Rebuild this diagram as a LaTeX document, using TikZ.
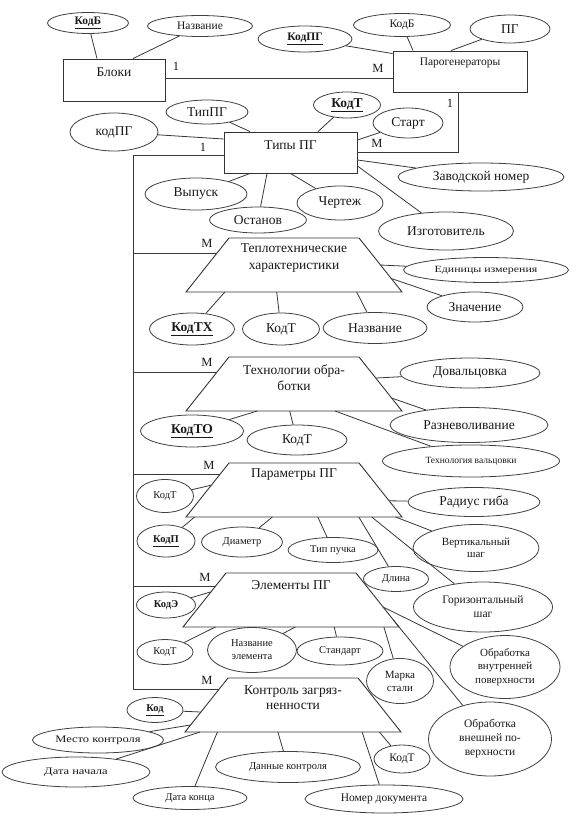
\documentclass[tikz,border=0pt]{standalone}
\usepackage{fontspec}
\setmainfont{Liberation Serif}
\newfontfamily\wideserif[FakeStretch=1.25]{Liberation Serif}
\usetikzlibrary{shapes.geometric,calc}
\begin{document}
\begin{tikzpicture}[x=1pt,y=-1pt,
 ln/.style={draw=black!78, line width=0.8pt},
 ent/.style={draw=black!80, line width=0.9pt, rectangle, inner sep=0pt},
 relline/.style={draw=black!80, line width=0.9pt, line join=miter},
 attr/.style={draw=black!75, line width=0.8pt, ellipse, inner sep=0pt, align=center, text=black!90},
 sz/.style 2 args={minimum width=#1pt, minimum height=#2pt},
 big/.style={font=\fontsize{13.5}{15}\selectfont, text=black!90},
 med/.style={font=\fontsize{11.5}{13}\selectfont, text=black!90},
 sml/.style={font=\fontsize{10.5}{12.5}\selectfont, text=black!90},
 wide/.style={font=\wideserif\fontsize{10}{12}\selectfont, text=black!90},
 tiny/.style={font=\fontsize{9.5}{11}\selectfont, text=black!90},
 card/.style={font=\fontsize{12.5}{14}\selectfont, inner sep=0pt, text=black!90},
 rtext/.style={align=center, inner sep=0pt, text=black!90}
]
\useasboundingbox[fill=white] (0,0) rectangle (582,826);

% ---------- entities ----------
\node[ent, sz={102}{42}, label={[big,yshift=8pt]center:Блоки}] (bl) at (114,80) {};
\node[ent, sz={134}{41}, label={[med,yshift=8.5pt]center:Парогенераторы}] (pg) at (460,71.5) {};
\node[ent, sz={133}{41}, label={[big,yshift=7.5pt]center:Типы ПГ}] (tp) at (290.5,152.5) {};

% ---------- relationship trapezoids ----------
\foreach \n/\cx/\cy in {T1/294/265, T2/294/384, T3/294/490, T4/291/600, T5/293/705}{
  \coordinate (\n-c) at (\cx,\cy);
  \coordinate (\n-tl) at (\cx-65,\cy-27);
  \coordinate (\n-tr) at (\cx+65,\cy-27);
  \coordinate (\n-br) at (\cx+108,\cy+27);
  \coordinate (\n-bl) at (\cx-108,\cy+27);
  \draw[relline] (\n-tl) -- (\n-tr) -- (\n-br) -- (\n-bl) -- cycle;
}
\node[rtext, font=\fontsize{13.5}{17}\selectfont] (T1t) at (294,258.5) {Теплотехнические\\характеристики};
\node[rtext, font=\fontsize{13.5}{16}\selectfont] (T2t) at (294,378) {Технологии обра-\\ботки};
\node[rtext, font=\fontsize{13.5}{15}\selectfont] (T3t) at (294,475) {Параметры ПГ};
\node[rtext, font=\fontsize{13.5}{15}\selectfont] (T4t) at (291,585) {Элементы ПГ};
\node[rtext, font=\fontsize{13.5}{15.5}\selectfont] (T5t) at (293,697.5) {Контроль загряз-\\ненности};

% ---------- cardinalities ----------
\node[card] (c1) at (176,66) {1};
\node[card] (c2) at (378,68) {M};
\node[card] (c3) at (450,103) {1};
\node[card] (c4) at (377,143) {M};
\node[card] (c5) at (203,147) {1};
\node[card] (c6) at (207,243) {M};
\node[card] (c7) at (207,362) {M};
\node[card] (c8) at (209,465) {M};
\node[card] (c9) at (205,577) {M};
\node[card] (c10) at (207,680) {M};

% ---------- relationships ----------
\draw[ln] ([yshift=2pt]bl.east) -- ([yshift=2pt]bl.east -| pg.west);
\draw[ln] ([xshift=-2pt]pg.south) |- (tp.east);

\coordinate (T1l) at ($(T1-tl)!0.28!(T1-bl)$);
\coordinate (T2l) at ($(T2-tl)!0.28!(T2-bl)$);
\coordinate (T3l) at ($(T3-tl)!0.22!(T3-bl)$);
\coordinate (T4l) at ($(T4-tl)!0.24!(T4-bl)$);
\coordinate (T5l) at ($(T5-tl)!0.22!(T5-bl)$);
\coordinate (bus) at (133,690);
\draw[ln] ([yshift=-2.5pt]tp.west) -| (bus |- T5l) -- (T5l);
\draw[ln] (T1l -| bus) -- (T1l);
\draw[ln] (T2l -| bus) -- (T2l);
\draw[ln] (T3l -| bus) -- (T3l);
\draw[ln] (T4l -| bus) -- (T4l);

% ---------- attributes: Блоки ----------
\node[attr, sz={81}{21}, med] (kodB1) at (88,23) {\underline{\textbf{КодБ}}};
\node[attr, sz={105}{21}, med] (nazv1) at (200,26) {Название};
\draw[ln] (kodB1) -- ([xshift=-17pt]bl.north);
\draw[ln] (nazv1) -- ([xshift=19pt]bl.north);

% ---------- attributes: Парогенераторы ----------
\node[attr, sz={94}{26}, med] (kodPG) at (305,39) {\underline{\textbf{КодПГ}}};
\node[attr, sz={97}{23}, med] (kodB2) at (402,25) {КодБ};
\node[attr, sz={80}{28}, big] (pgA) at (510,29) {ПГ};
\draw[ln] (kodPG) -- ([yshift=-3pt]pg.north west);
\draw[ln] (kodB2) -- ([xshift=-47pt]pg.north);
\draw[ln] (pgA) -- ([xshift=-9pt]pg.north);

% ---------- attributes: Типы ПГ ----------
\node[attr, sz={88}{38}, big] (kodpg2) at (114,132) {кодПГ};
\node[attr, sz={82}{24}, big] (tipPG) at (207,112) {ТипПГ};
\node[attr, sz={67}{26}, big] (kodT1) at (347,105) {\underline{\textbf{КодТ}}};
\node[attr, sz={70}{30}, big] (start) at (408,123) {Старт};
\node[attr, sz={102}{32}, big] (vyp) at (196,194) {Выпуск};
\node[attr, sz={97}{26}, big] (ost) at (258,220) {Останов};
\node[attr, sz={86}{34}, big] (cher) at (340,203) {Чертеж};
\node[attr, sz={166}{28}, big] (zav) at (481,177) {Заводской номер};
\node[attr, sz={135}{38}, big] (izg) at (446,231) {Изготовитель};
\draw[ln] (kodpg2) -- ([yshift=13.5pt]tp.west);
\draw[ln] (tipPG) -- ([xshift=-40.5pt]tp.north);
\draw[ln] (kodT1) -- ([xshift=27.5pt]tp.north);
\draw[ln] (start) -- ([yshift=12.5pt]tp.east);
\draw[ln] (vyp) -- ([xshift=-40.5pt]tp.south);
\draw[ln] (ost) -- ([xshift=-23.5pt]tp.south);
\draw[ln] (cher) -- (tp.south);
\draw[ln] (zav) -- ([yshift=-7.5pt]tp.east);
\draw[ln] (izg) -- ([yshift=-13.5pt]tp.east);

% ---------- Теплотехнические характеристики ----------
\node[attr, sz={165}{25}, font=\wideserif\fontsize{9.5}{11}\selectfont] (edin) at (486,270) {Единицы измерения};
\node[attr, sz={96}{30}, big] (znach) at (475,307) {Значение};
\node[attr, sz={85}{32}, big] (kodTX) at (192,329) {\underline{\textbf{КодТХ}}};
\node[attr, sz={77}{32}, big] (kodTa) at (281,329) {КодТ};
\node[attr, sz={104}{31}, big] (nazv2) at (375,328) {Название};
\draw[ln] (edin) -- ($(T1-tr)!0.5!(T1-br)$);
\draw[ln] (znach) -- ($(T1-tr)!0.75!(T1-br)$);
\draw[ln] (kodTX) -- ($(T1-bl)!0.18!(T1-br)$);
\draw[ln] (kodTa) -- ($(T1-bl)!0.42!(T1-br)$);
\draw[ln] (nazv2) -- ($(T1-bl)!0.79!(T1-br)$);

% ---------- Технологии обработки ----------
\node[attr, sz={140}{30}, big] (doval) at (470,373) {Довальцовка};
\node[attr, sz={158}{35}, big] (razn) at (469,425) {Разневоливание};
\node[attr, sz={177}{32}, tiny] (tehv) at (471,461) {Технология вальцовки};
\node[attr, sz={103}{32}, big] (kodTO) at (192,431) {\underline{\textbf{КодТО}}};
\node[attr, sz={100}{30}, big] (kodTb) at (297,440) {КодТ};
\draw[ln] (doval) -- ($(T2-tr)!0.39!(T2-br)$);
\draw[ln] (razn) -- ($(T2-tr)!0.76!(T2-br)$);
\draw[ln] (tehv) -- ($(T2-bl)!0.69!(T2-br)$);
\draw[ln] (kodTO) -- ($(T2-bl)!0.33!(T2-br)$);
\draw[ln] (kodTb) -- ($(T2-bl)!0.48!(T2-br)$);

% ---------- Параметры ПГ ----------
\node[attr, sz={57}{33}, sml] (kodTc) at (165,496) {КодТ};
\node[attr, sz={132}{29}, big] (rad) at (474,502) {Радиус гиба};
\node[attr, sz={58}{32}, sml] (kodP) at (166,541) {\underline{\textbf{КодП}}};
\node[attr, sz={81}{30}, sml] (diam) at (242,542) {Диаметр};
\node[attr, sz={90}{25}, sml] (tipp) at (333,550) {Тип пучка};
\node[attr, sz={65}{25}, sml] (dlina) at (396,579) {Длина};
\node[attr, sz={126}{47}, font=\fontsize{11}{12.5}\selectfont] (vert) at (476,548) {Вертикальный\\шаг};
\node[attr, sz={139}{50}, font=\fontsize{11.5}{14}\selectfont] (goriz) at (483,607) {Горизонтальный\\шаг};
\draw[ln] (kodTc) -- ($(T3-tl)!0.41!(T3-bl)$);
\draw[ln] (rad) -- ($(T3-tr)!0.7!(T3-br)$);
\draw[ln] (kodP) -- ($(T3-bl)!0.04!(T3-br)$);
\draw[ln] (diam) -- ($(T3-bl)!0.4!(T3-br)$);
\draw[ln] (tipp) -- ($(T3-bl)!0.61!(T3-br)$);
\draw[ln] (dlina) -- ($(T3-bl)!0.8!(T3-br)$);
\draw[ln] (goriz) -- ($(T3-bl)!0.86!(T3-br)$);
\draw[ln] (vert) -- ($(T3-bl)!0.97!(T3-br)$);

% ---------- Элементы ПГ ----------
\node[attr, sz={59}{26}, sml] (kodE) at (166,605) {\textbf{КодЭ}};
\node[attr, sz={56}{25}, sml] (kodTd) at (165,652) {КодТ};
\node[attr, sz={89}{45}, font=\fontsize{10.5}{13}\selectfont] (nazel) at (252,650) {Название\\элемента};
\node[attr, sz={86}{28}, sml] (stand) at (340,651) {Стандарт};
\node[attr, sz={67}{45}, font=\fontsize{11}{13}\selectfont] (marka) at (400,681) {Марка\\стали};
\node[attr, sz={110}{63}, font=\fontsize{11}{13.3}\selectfont] (obrvn) at (505,667) {Обработка\\внутренней\\поверхности};
\node[attr, sz={123}{74}, font=\fontsize{11.5}{14}\selectfont] (obrvsh) at (490,739) {Обработка\\внешней по-\\верхности};
\draw[ln] (kodE) -- ($(T4-tl)!0.35!(T4-bl)$);
\draw[ln] (kodTd) -- ($(T4-bl)!0.15!(T4-br)$);
\draw[ln] (nazel) -- ($(T4-bl)!0.52!(T4-br)$);
\draw[ln] (stand) -- ($(T4-bl)!0.7!(T4-br)$);
\draw[ln] (marka) -- ($(T4-bl)!0.93!(T4-br)$);
\draw[ln] (obrvn) -- ($(T4-tr)!0.63!(T4-br)$);
\draw[ln] (obrvsh) -- ($(T4-tr)!0.87!(T4-br)$);

% ---------- Контроль загрязненности ----------
\node[attr, sz={56}{25}, sml] (kod) at (155,710) {\underline{\textbf{Код}}};
\node[attr, sz={131}{26}, wide] (mesto) at (98,740) {Место контроля};
\node[attr, sz={148}{30}, wide] (datan) at (76,772) {Дата начала};
\node[attr, sz={114}{23}, sml] (datak) at (190,798) {Дата конца};
\node[attr, sz={145}{31}, sml] (dann) at (288,767) {Данные контроля};
\node[attr, sz={158}{28}, med] (nomer) at (384,799) {Номер документа};
\node[attr, sz={56}{28}, med] (kodTe) at (402,759) {КодТ};
\draw[ln] (kod) -- ($(T5-tl)!0.63!(T5-bl)$);
\draw[ln] (mesto) -- ($(T5-tl)!0.87!(T5-bl)$);
\draw[ln] (datan) -- ($(T5-bl)!0.07!(T5-br)$);
\draw[ln] (datak) -- ($(T5-bl)!0.15!(T5-br)$);
\draw[ln] (dann) -- ($(T5-bl)!0.43!(T5-br)$);
\draw[ln] (nomer) -- ($(T5-bl)!0.82!(T5-br)$);
\draw[ln] (kodTe) -- ($(T5-bl)!0.9!(T5-br)$);
\end{tikzpicture}
\end{document}
